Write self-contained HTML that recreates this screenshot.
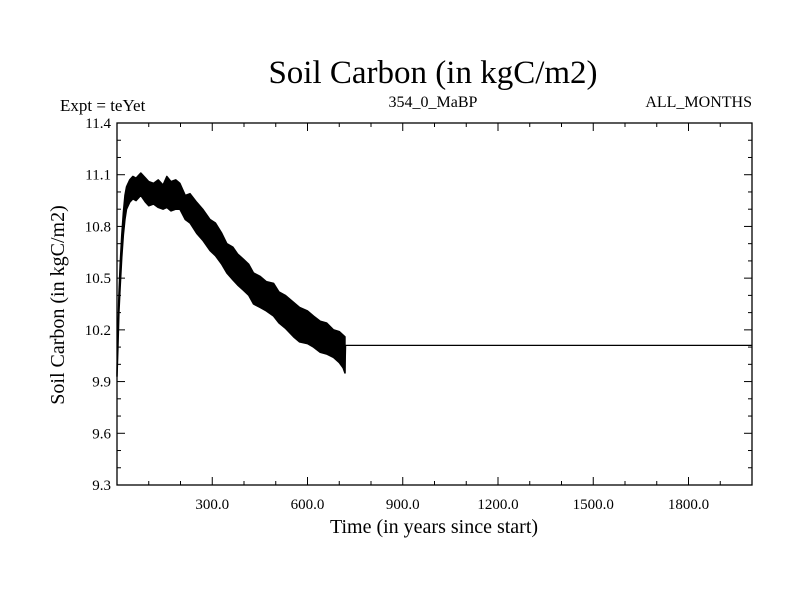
<!DOCTYPE html>
<html><head><meta charset="utf-8"><style>
body{margin:0;background:#fff;}
svg{display:block;font-family:"Liberation Serif",serif;}
</style></head><body>
<svg id="chart" width="800" height="600" viewBox="0 0 800 600" xmlns="http://www.w3.org/2000/svg">
<rect width="800" height="600" fill="#fff"/>
<text x="433" y="83" font-size="33" text-anchor="middle">Soil Carbon (in kgC/m2)</text>
<text x="60" y="111" font-size="17">Expt = teYet</text>
<text x="433" y="107" font-size="16" text-anchor="middle">354_0_MaBP</text>
<text x="752" y="107" font-size="16" text-anchor="end">ALL_MONTHS</text>
<text transform="translate(64,305) rotate(-90)" font-size="20" text-anchor="middle">Soil Carbon (in kgC/m2)</text>
<text x="434" y="533" font-size="20" text-anchor="middle">Time (in years since start)</text>
<g id="plot"></g>
</svg>
<script>
const years = [0,3,6,10,15,20,25,30,40,50,60,75,90,100,115,130,145,157,170,185,198,215,230,251,270,293,310,330,346,365,380,398,415,430,451,470,493,510,530,556,575,600,619,640,660,682,700,712,718];
const upperVals = [9.95,10.2,10.4,10.58,10.75,10.88,10.98,11.03,11.07,11.09,11.08,11.11,11.08,11.06,11.05,11.07,11.04,11.09,11.06,11.07,11.05,10.98,10.99,10.94,10.90,10.84,10.82,10.76,10.70,10.68,10.64,10.61,10.58,10.53,10.51,10.48,10.47,10.42,10.40,10.36,10.33,10.31,10.28,10.25,10.24,10.20,10.19,10.17,10.16];
const lowerVals = [9.93,10.1,10.3,10.45,10.62,10.75,10.84,10.90,10.94,10.96,10.95,10.98,10.94,10.92,10.93,10.91,10.90,10.91,10.89,10.90,10.90,10.84,10.82,10.76,10.72,10.66,10.63,10.58,10.53,10.49,10.46,10.43,10.40,10.35,10.33,10.31,10.28,10.24,10.21,10.16,10.13,10.12,10.10,10.07,10.06,10.04,10.01,9.98,9.95];
const flatStart = 720;
const flatValue = 10.11;
const xMax = 2000;
const xTicks = [300,600,900,1200,1500,1800];
const xTickLabels = ["300.0","600.0","900.0","1200.0","1500.0","1800.0"];
const yTicks = [9.3,9.6,9.9,10.2,10.5,10.8,11.1,11.4];
const yTickLabels = ["9.3","9.6","9.9","10.2","10.5","10.8","11.1","11.4"];

const L=117,R=752,T=123,B=485,yMin=9.3,yMax=11.4;
const sx=v=>L+(v/xMax)*(R-L);
const sy=v=>B-(v-yMin)/(yMax-yMin)*(B-T);
const NS="http://www.w3.org/2000/svg";
const g=document.getElementById('plot');
function mk(tag,attrs){const e=document.createElementNS(NS,tag);for(const k in attrs)e.setAttribute(k,attrs[k]);g.appendChild(e);return e;}

// band
let pts=years.map((y,i)=>sx(y)+","+sy(upperVals[i]));
for(let i=years.length-1;i>=0;i--)pts.push(sx(years[i])+","+sy(lowerVals[i]));
const band=mk('polygon',{points:pts.join(' '),fill:'#000',stroke:'#000','stroke-width':1.5,'stroke-linejoin':'round'});


const flat=mk('polyline',{points:`${sx(years[years.length-1])},${sy(lowerVals[lowerVals.length-1])} ${sx(flatStart)},${sy(flatValue)} ${sx(xMax)},${sy(flatValue)}`,fill:'none',stroke:'#000','stroke-width':1.3});



// ticks
for(let v=100;v<xMax;v+=100){
  const major=v%300===0, len=major?8:4;
  const t1=mk('line',{x1:sx(v),x2:sx(v),y1:B,y2:B-len,stroke:'#000','stroke-width':1});
  
  
  const t2=mk('line',{x1:sx(v),x2:sx(v),y1:T,y2:T+len,stroke:'#000','stroke-width':1});
  
  
}
for(let k=1;k<21;k++){
  const v=yMin+k*0.1, major=k%3===0, len=major?8:4;
  const t1=mk('line',{x1:L,x2:L+len,y1:sy(v),y2:sy(v),stroke:'#000','stroke-width':1});
  
  
  const t2=mk('line',{x1:R,x2:R-len,y1:sy(v),y2:sy(v),stroke:'#000','stroke-width':1});
  
  
}
xTicks.forEach((v,i)=>{
  const t=mk('text',{x:sx(v),y:B+24,'font-size':15,'text-anchor':'middle'});
  t.textContent=xTickLabels[i];
  
  
});
yTicks.forEach((v,i)=>{
  const t=mk('text',{x:L-6,y:sy(v)+5,'font-size':15,'text-anchor':'end'});
  t.textContent=yTickLabels[i];
  
  
});
const frame=mk('rect',{x:L,y:T,width:R-L,height:B-T,fill:'none',stroke:'#000','stroke-width':1.3});


</script>
</body></html>
